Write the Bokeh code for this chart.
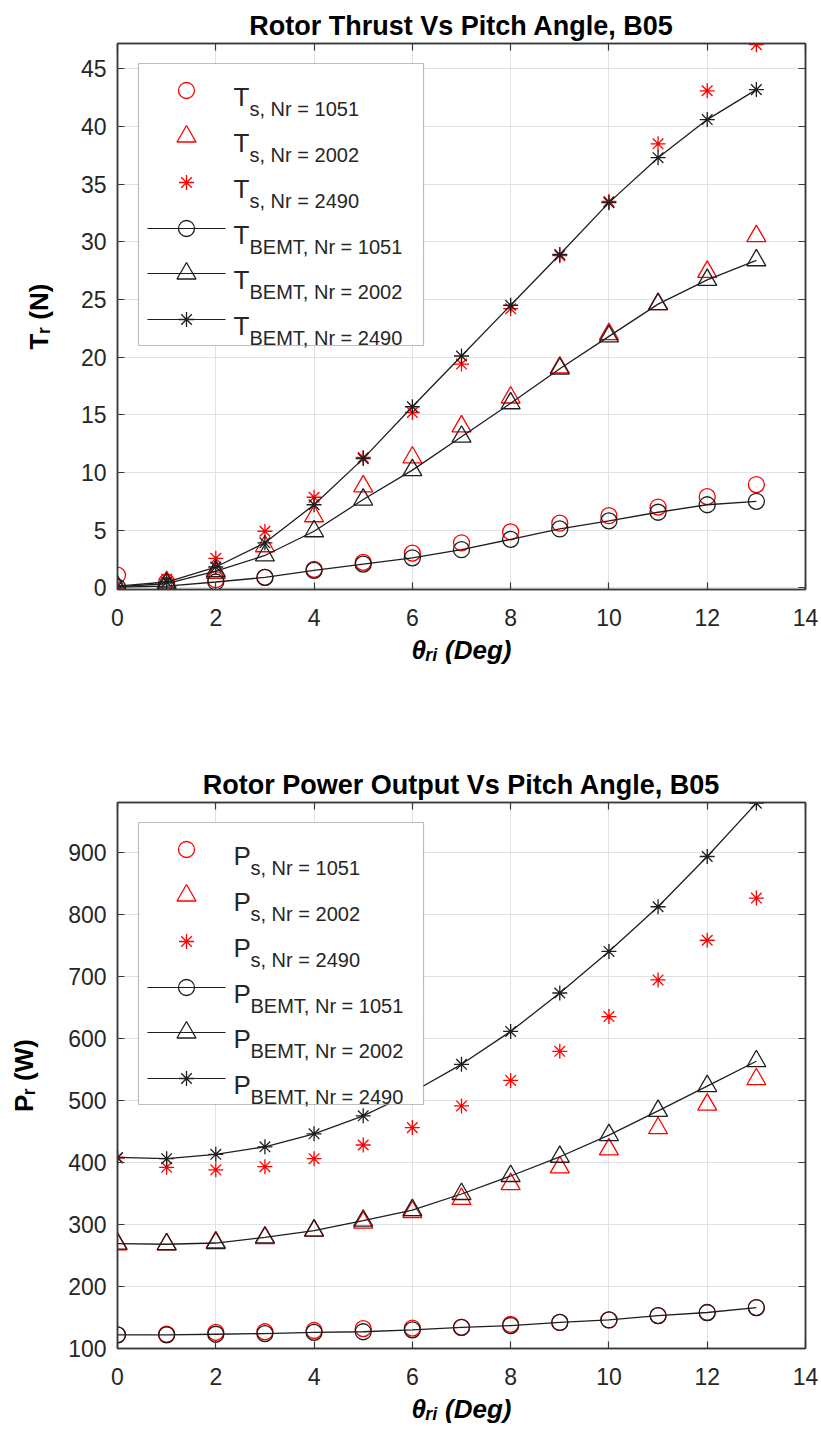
from bokeh.plotting import figure
from bokeh.models import Range1d, LinearAxis, BoxAnnotation, Label, FixedTicker
from bokeh.layouts import column
from bokeh.embed import file_html
from bokeh.resources import INLINE

# ---------------- data ----------------
theta = [0, 1, 2, 3, 4, 5, 6, 7, 8, 9, 10, 11, 12, 13]

Ts_1051 = [1.1, 0.5, 0.7, 0.9, 1.6, 2.2, 3.0, 3.9, 4.85, 5.6, 6.25, 7.0, 7.9, 8.95]
Ts_2002 = [0.0, 0.5, 1.3, 3.6, 6.2, 8.8, 11.3, 14.0, 16.5, 19.1, 22.0, 24.6, 27.4, 30.5]
Ts_2490 = [-0.1, 0.75, 2.55, 4.9, 7.85, 11.3, 15.2, 19.4, 24.2, 28.8, 33.5, 38.5, 43.1, 47.1]
Tb_1051 = [0.05, 0.15, 0.5, 0.9, 1.5, 2.05, 2.6, 3.3, 4.2, 5.1, 5.8, 6.55, 7.2, 7.5]
Tb_2002 = [0.1, 0.35, 1.45, 2.8, 4.9, 7.65, 10.2, 13.1, 16.0, 19.0, 21.8, 24.6, 26.7, 28.4]
Tb_2490 = [0.14, 0.5, 1.8, 3.9, 7.2, 11.2, 15.7, 20.1, 24.5, 28.9, 33.4, 37.3, 40.6, 43.2]

Ps_1051 = [122, 123, 126, 127, 129, 132, 133, 134, 139, 142, 146, 153, 158, 166]
Ps_2002 = [268, 268, 271, 278, 290, 303, 320, 341, 365, 392, 421, 455, 493, 534]
Ps_2490 = [407, 392, 388, 393, 406, 428, 456, 491, 532, 579, 635, 694, 758, 826]
Pb_1051 = [122, 122, 123, 124, 126, 127, 130, 134, 137, 142, 146, 153, 158, 166]
Pb_2002 = [269, 268, 270, 279, 290, 306, 323, 349, 378, 409, 444, 483, 523, 563]
Pb_2490 = [408, 406, 413, 425, 446, 475, 513, 558, 611, 673, 740, 812, 893, 979]

x_ticks = [0, 2, 4, 6, 8, 10, 12, 14]
T_ticks = [0, 5, 10, 15, 20, 25, 30, 35, 40, 45]
P_ticks = [100, 200, 300, 400, 500, 600, 700, 800, 900]

speeds = ["1051", "2002", "2490"]

# ---------------- style ----------------
FONT = "Liberation Sans"
FW, FH = 688, 546
XR = (0, 14)
AX = "#3a3a3a"
TICK_TXT = "#262626"
GRID = "#e2e2e2"
RED = "#ff0000"
BLK = "#1e1e1e"
MARKERS = ["circle", "triangle", "asterisk"]
MSIZE = {"circle": 16, "triangle": 19, "asterisk": 15}


def make_fig(title, yr, yticks, top, bottom, sym, ylabel, s_vals, b_vals, ylab_standoff):
    p = figure(frame_width=FW, frame_height=FH,
               x_range=Range1d(*XR), y_range=Range1d(*yr),
               output_backend="svg", toolbar_location=None,
               min_border_left=117, min_border_right=16,
               min_border_top=top, min_border_bottom=bottom,
               background_fill_color="white", border_fill_color="white")
    p.title.text = title
    p.title.text_font = FONT
    p.title.text_font_size = "27px"
    p.title.text_font_style = "bold"
    p.title.text_color = "black"
    p.title.align = "center"
    p.title.standoff = 6

    X = lambda off: XR[0] + off * (XR[1] - XR[0]) / FW
    Y = lambda off: yr[1] - off * (yr[1] - yr[0]) / FH

    for ax, tk in ((p.xaxis[0], x_ticks), (p.yaxis[0], yticks)):
        ax.ticker = FixedTicker(ticks=tk)
        ax.major_label_text_font = FONT
        ax.major_label_text_font_size = "23px"
        ax.major_label_text_color = TICK_TXT
        ax.major_tick_in = 7
        ax.major_tick_out = 0
        ax.minor_tick_in = 0
        ax.minor_tick_out = 0
        ax.axis_line_color = AX
        ax.axis_line_width = 1.5
        ax.major_tick_line_color = AX
        ax.major_tick_line_width = 1.2
        ax.axis_label_text_font = FONT
        ax.axis_label_text_font_size = "26px"
        ax.axis_label_text_color = "black"
    p.xaxis[0].major_label_standoff = 19
    p.yaxis[0].major_label_standoff = 11
    p.xaxis[0].axis_label = "θᵣᵢ (Deg)"
    p.xaxis[0].axis_label_text_font_style = "bold italic"
    p.xaxis[0].axis_label_standoff = 6
    p.yaxis[0].axis_label = ylabel
    p.yaxis[0].axis_label_text_font_style = "bold"
    p.yaxis[0].axis_label_standoff = ylab_standoff

    for loc, tk in (("above", x_ticks), ("right", yticks)):
        ax = LinearAxis(ticker=FixedTicker(ticks=tk), major_label_text_font_size="0px",
                        major_label_overrides={t: "" for t in tk},
                        major_label_standoff=0, major_tick_in=7, major_tick_out=0,
                        minor_tick_in=0, minor_tick_out=0, axis_line_color=AX,
                        axis_line_width=1.5, major_tick_line_color=AX,
                        major_tick_line_width=1.2)
        p.add_layout(ax, loc)

    p.xgrid.ticker = FixedTicker(ticks=x_ticks)
    p.ygrid.ticker = FixedTicker(ticks=yticks)
    p.grid.grid_line_color = GRID
    p.grid.grid_line_width = 1
    p.outline_line_color = AX
    p.outline_line_width = 1.5

    # experimental (red) points
    for m, vals in zip(MARKERS, s_vals):
        p.scatter(theta, vals, marker=m, size=MSIZE[m], fill_color=None,
                  line_color=RED, line_width=1.3)
    # BEMT (black) lines with markers
    for m, vals in zip(MARKERS, b_vals):
        p.line(theta, vals, line_color=BLK, line_width=1.3)
        p.scatter(theta, vals, marker=m, size=MSIZE[m], fill_color=None,
                  line_color=BLK, line_width=1.3)

    # ---- legend (custom, to allow subscripts) ----
    box = BoxAnnotation(left=X(21), right=X(306), top=Y(20), bottom=Y(302),
                        fill_color="white", fill_alpha=1.0,
                        line_color="#262626", line_width=1.2)
    p.add_layout(box)
    rows = [47, 93, 139, 185, 230, 276]
    entries = []
    for m, sp in zip(MARKERS, speeds):
        entries.append((m, RED, False, "s, Nr = " + sp))
    for m, sp in zip(MARKERS, speeds):
        entries.append((m, BLK, True, "BEMT, Nr = " + sp))
    main_w = 16 if sym == "T" else 17
    for r, (m, col, has_line, sub) in zip(rows, entries):
        if has_line:
            lr = p.line([X(30), X(108)], [Y(r), Y(r)], line_color=BLK, line_width=1.2)
            lr.level = "overlay"
        sr = p.scatter([X(69)], [Y(r)], marker=m, size=MSIZE[m], fill_color=None,
                       line_color=col, line_width=1.3)
        sr.level = "overlay"
        p.add_layout(Label(x=X(116), y=Y(r + 6), text=sym, text_font=FONT,
                           text_font_size="26px", text_color="#262626",
                           text_baseline="alphabetic", text_align="left"))
        p.add_layout(Label(x=X(116 + main_w), y=Y(r + 18), text=sub, text_font=FONT,
                           text_font_size="20px", text_color="#262626",
                           text_baseline="alphabetic", text_align="left"))
    return p


p1 = make_fig("Rotor Thrust Vs Pitch Angle, B05", (-0.15, 47.2), T_ticks, 43, 111,
              "T", "Tᵣ (N)", [Ts_1051, Ts_2002, Ts_2490], [Tb_1051, Tb_2002, Tb_2490], 24)
p2 = make_fig("Rotor Power Output Vs Pitch Angle, B05", (100, 980), P_ticks, 102, 91,
              "P", "Pᵣ (W)", [Ps_1051, Ps_2002, Ps_2490], [Pb_1051, Pb_2002, Pb_2490], 26)

layout = column(p1, p2, spacing=0)
open("out.html", "w").write(file_html(layout, INLINE))
